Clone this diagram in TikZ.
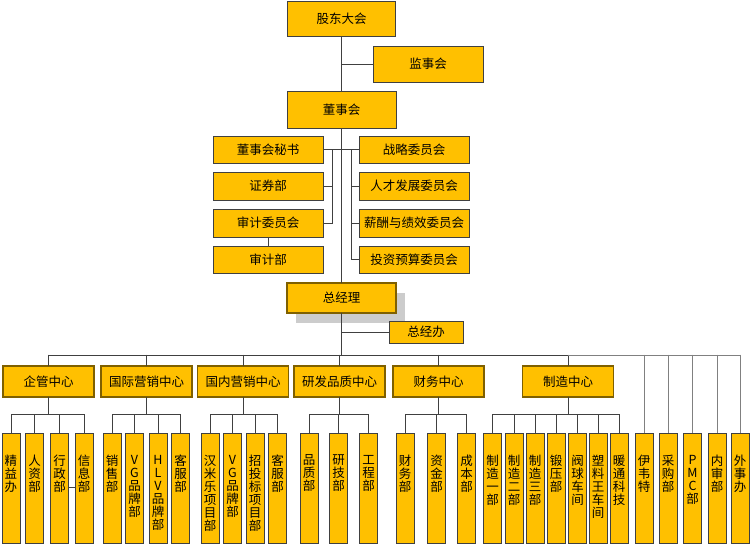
\documentclass[tikz,border=0pt]{standalone}
\usepackage{fontspec}
\setmainfont{Noto Sans CJK SC}
\usetikzlibrary{shadows}

\definecolor{boxgold}{HTML}{FFC000}
\definecolor{hubedge}{HTML}{7F6000}
\definecolor{linegray}{HTML}{404040}

\newcommand{\vtext}[1]{\parbox[c][104pt][t]{14pt}{\centering\vspace*{19pt}#1}}

\tikzset{
  box/.style={draw=linegray, fill=boxgold, line width=0.8pt, inner sep=0pt,
    minimum width=110pt, minimum height=28pt},
  hub/.style={draw=hubedge, fill=boxgold, line width=1.6pt, inner sep=0pt,
    minimum width=91pt, minimum height=31pt},
  leaf/.style={draw=linegray, fill=boxgold, line width=0.8pt, inner sep=0pt,
    minimum width=18pt, minimum height=110pt},
  link/.style={draw=linegray, line width=0.9pt},
  thinlink/.style={draw=black!50, line width=0.9pt}
}

\begin{document}
\begin{tikzpicture}[
  x={(1pt,0pt)},
  y={(0pt,-1pt)},
  font=\fontsize{12.5}{13}\selectfont,
  line cap=rect
]
  \useasboundingbox (0,0) rectangle (750,545);

  \node[box, minimum width=108pt, minimum height=35pt] (gd) at (341.5,18.5) {股东大会};
  \node[box, minimum height=36pt] (js) at (428,64) {监事会};
  \node[box, minimum width=109pt, minimum height=37pt] (ds) at (341.5,109.5) {董事会};

  \node[box, minimum height=27pt] (ms) at (268,149.5) {董事会秘书};
  \node[box] (zq) at (268,186) {证券部};
  \node[box] (sw) at (268,223) {审计委员会};
  \node[box, minimum height=27pt] (sj) at (268,259.5) {审计部};

  \node[box, minimum height=27pt] (zl) at (414,149.5) {战略委员会};
  \node[box] (rc) at (414,186) {人才发展委员会};
  \node[box] (xc) at (414,223) {薪酬与绩效委员会};
  \node[box, minimum height=27pt] (tz) at (414,259.5) {投资预算委员会};

  \node[hub, minimum width=109pt, minimum height=30pt,
    drop shadow={shadow xshift=9pt, shadow yshift=-10pt, fill=black!20, opacity=1}]
    (zj) at (341.5,298) {总经理};
  \node[box, minimum width=74pt, minimum height=22pt] (zb) at (426,332) {总经办};

  \coordinate (bus) at (0,355);
  \coordinate (subbus) at (0,414);
  \coordinate (lbus) at (332,149.5);
  \coordinate (rbus) at (351,149.5);

  \draw[link] (gd.south) -- (ds.north);
  \draw[link] (js.west) -- (js.west -| gd.south);
  \draw[link] (ds.south) -- (zj.north);
  \draw[link] (ms.east) -- (zl.west);
  \draw[link] (lbus) |- (zq.east);
  \draw[link] (lbus) |- (sw.east);
  \draw[link] (sw.south) -- (sj.north);
  \foreach \n in {rc,xc,tz} {
    \draw[link] (rbus) |- (\n.west);
  }
  \draw[link] (zj.south) -- (zj.south |- bus);
  \draw[link] (zb.west) -- (zb.west -| zj.south);

  \foreach \n/\x/\t in {
    qg/48.5/企管中心,
    gj/146.5/国际营销中心,
    gn/243/国内营销中心,
    yf/339.5/研发品质中心,
    cw/438.5/财务中心,
    zz/568/制造中心
  } {
    \node[hub] (\n) at (\x,381.5) {\t};
    \draw[link] (\n.north) -- (\n.north |- bus);
    \draw[link] (\n.south) -- (\n.south |- subbus);
  }

  \foreach \n/\x/\t in {
    qg1/11/精\\益\\办,
    qg2/34.5/人\\资\\部,
    qg3/59.5/行\\政\\部,
    qg4/84/信\\息\\部,
    gj1/112/销\\售\\部,
    gj2/134.5/V\\G\\品\\牌\\部,
    gj3/158/H\\L\\V\\品\\牌\\部,
    gj4/180.5/客\\服\\部,
    gn1/210/汉\\米\\乐\\项\\目\\部,
    gn2/232.5/V\\G\\品\\牌\\部,
    gn3/255/招\\投\\标\\项\\目\\部,
    gn4/277.5/客\\服\\部,
    yf1/309/品\\质\\部,
    yf2/338.5/研\\技\\部,
    yf3/368.5/工\\程\\部,
    cw1/405/财\\务\\部,
    cw2/436.5/资\\金\\部,
    cw3/466.5/成\\本\\部,
    zz1/492.5/制\\造\\一\\部,
    zz2/514/制\\造\\二\\部,
    zz3/535/制\\造\\三\\部,
    zz4/556/锻\\压\\部,
    zz5/577.5/阀\\球\\车\\间,
    zz6/598/塑\\料\\王\\车\\间,
    zz7/619/暖\\通\\科\\技
  } {
    \node[leaf] (\n) at (\x,488) {\vtext{\t}};
    \draw[link] (\n.north) -- (\n.north |- subbus);
  }

  \foreach \n/\x/\t in {
    yw/644/伊\\韦\\特,
    cg/668/采\\购\\部,
    pmc/692.5/P\\M\\C\\部,
    ns/717/内\\审\\部,
    ws/740/外\\事\\办
  } {
    \node[leaf] (\n) at (\x,488) {\vtext{\t}};
    \draw[thinlink] (\n.north) -- (\n.north |- bus);
  }

  \draw[link] (qg.north |- bus) -- (zz.north |- bus);
  \draw[thinlink] (zz.north |- bus) -- (ws.north |- bus);
  \foreach \a/\b in {qg1/qg4, gj1/gj4, gn1/gn4, yf1/yf3, cw1/cw3, zz1/zz7} {
    \draw[link] (\a.north |- subbus) -- (\b.north |- subbus);
  }
  \draw[link] (qg3.east |- 0,487) -- (qg4.west |- 0,487);
\end{tikzpicture}
\end{document}
